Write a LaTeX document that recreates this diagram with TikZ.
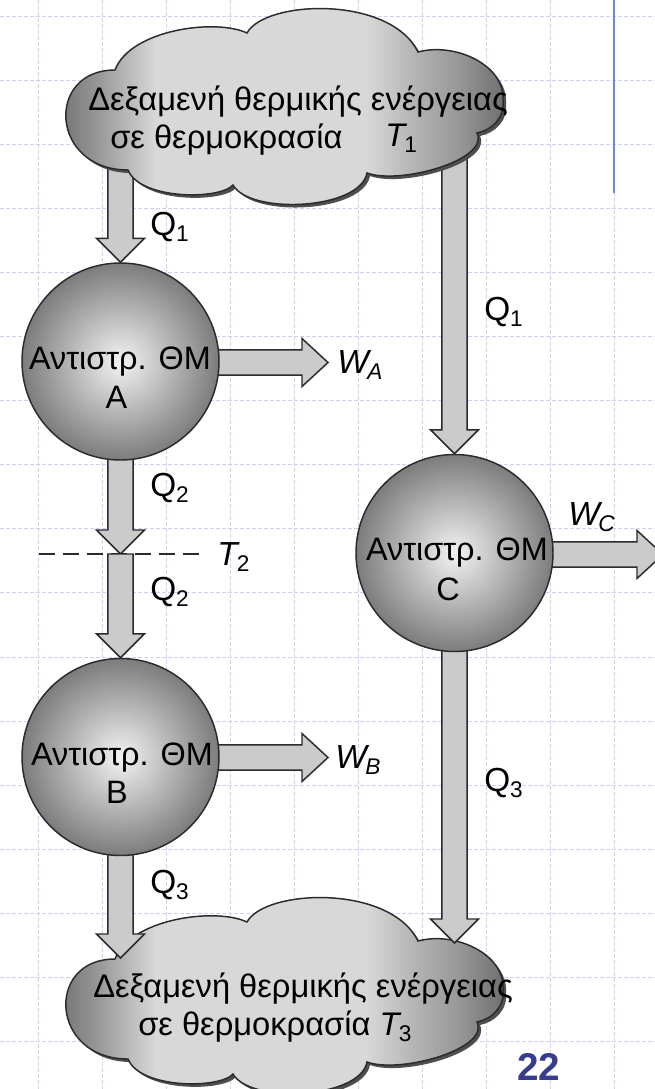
\documentclass[tikz,border=0pt]{standalone}
\usepackage{fontspec}
\setmainfont{Liberation Sans}
\usetikzlibrary{calc}
\pgfdeclarelayer{gridlayer}
\pgfdeclarelayer{low}
\pgfdeclarelayer{arr}
\pgfsetlayers{gridlayer,low,arr,main}
\definecolor{lineC}{HTML}{2B2B2B}
\definecolor{arrowF}{HTML}{CBCBCB}
\definecolor{shadowC}{HTML}{4E4E4E}
\definecolor{gridC}{HTML}{C9D2F5}
\definecolor{blueC}{HTML}{6F83EE}
\definecolor{numC}{HTML}{373C8E}
\definecolor{ballC}{HTML}{F3F3F3}
\definecolor{ballE}{HTML}{7C7C7C}
\definecolor{cA}{HTML}{6E6E6E}
\definecolor{cB}{HTML}{9A9A9A}
\definecolor{cC}{HTML}{D8D8D8}
\definecolor{cD}{HTML}{B5B5B5}
\definecolor{cE}{HTML}{979797}
\pgfdeclarehorizontalshading{cloudsh}{100bp}{color(0bp)=(cA); color(26bp)=(cA); color(31bp)=(cB); color(37bp)=(cC); color(60bp)=(cC); color(65bp)=(cD); color(70bp)=(cE); color(75bp)=(cA); color(100bp)=(cA)}
\pgfdeclareradialshading{ballsh}{\pgfpoint{0bp}{0bp}}{color(0bp)=(ballC); color(25bp)=(ballE); color(50bp)=(ballE)}
\newcommand\lsub[1]{\raisebox{-5pt}{\fontsize{17}{17}\selectfont #1}}
\newcommand\varrow[2]{\draw[blockarrow] let \p1=#1, \p2=#2 in
  (\x2-9.4pt,\y1) -- (\x2-9.4pt,\y2+18pt) -- (\x2-18pt,\y2+18pt) -- (\x2,\y2)
  -- (\x2+18pt,\y2+18pt) -- (\x2+9.4pt,\y2+18pt) -- (\x2+9.4pt,\y1) -- cycle;}
\newcommand\harrow[2]{\draw[blockarrow] let \p1=#1, \p2=#2 in
  (\x1,\y2+9.4pt) -- (\x2-19.5pt,\y2+9.4pt) -- (\x2-19.5pt,\y2+18pt) -- (\x2,\y2)
  -- (\x2-19.5pt,\y2-18pt) -- (\x2-19.5pt,\y2-9.4pt) -- (\x1,\y2-9.4pt) -- cycle;}
\tikzset{
  engine/.style={circle, draw=lineC, line width=1.1pt, shading=ballsh, minimum size=147.75pt, inner sep=0pt},
  blockarrow/.style={fill=arrowF, draw=lineC, line width=1.1pt, line join=miter},
  etext/.style={font=\fontsize{24.3}{29}\selectfont, inner sep=0pt, anchor=base},
  ctext/.style={font=\fontsize{24.5}{29}\selectfont, inner sep=0pt, anchor=base west},
  lbl/.style={font=\fontsize{25}{29}\selectfont, inner sep=0pt, anchor=base west},
  gridline/.style={draw=gridC, line width=0.75pt, dash pattern=on 3pt off 1.5pt},
  cloudpath/.style={insert path={(128,170) .. controls (50,170) and (45,70) .. (115,70)
     .. controls (130,30) and (215,18) .. (247,33)
     .. controls (265,0) and (390,-5) .. (418,52)
     .. controls (455,42) and (505,65) .. (503,100)
     .. controls (505,118) and (492,130) .. (477,133)
     .. controls (490,160) and (400,185) .. (367,173)
     .. controls (360,210) and (250,215) .. (233,185)
     .. controls (220,200) and (140,200) .. (128,170) -- cycle}},
  cloudfill/.style={shading=cloudsh, draw=lineC, line width=1.1pt},
}
\begin{document}
\begin{tikzpicture}[x=0.75pt, y=-0.75pt]
\useasboundingbox (0,0) rectangle (655,1089);
\clip (0,0) rectangle (655,1089);
\begin{pgfonlayer}{gridlayer}
  \fill[white] (0,0) rectangle (655,1089);
  \foreach \k in {0,...,9} \draw[gridline] ({38+64.1*\k},0) -- ({38+64.1*\k},1089);
  \foreach \k in {0,...,16} \draw[gridline] (0,{16+64.1*\k}) -- (655,{16+64.1*\k});
  \coordinate (bl1) at (614,0);
  \coordinate (bl2) at (614,193);
  \draw[blueC, line width=1.5pt] (bl1) -- (bl2);
\end{pgfonlayer}

% engines
\node[engine] (A) at (120.5,361.5) {};
\node[engine] (B) at (120.5,757) {};
\node[engine] (C) at (454.5,553) {};
\node[etext] (A1) at (120,369) {Αντιστρ. ΘΜ};
\node[etext] (A2) at (116.5,408) {A};
\node[etext] (B1) at (122,765) {Αντιστρ. ΘΜ};
\node[etext] (B2) at (117,803) {B};
\node[etext] (C1) at (457,560) {Αντιστρ. ΘΜ};
\node[etext] (C2) at (448,600) {C};

% free ends
\coordinate (c1L) at (120.5,145);
\coordinate (c1R) at (454.5,145);
\coordinate (wA) at (328,362.5);
\coordinate (wB) at (328,757.5);
\coordinate (wC) at (663,554.5);
\coordinate (t2) at (120.5,554);
\coordinate (q3L) at (120.5,958);
\coordinate (q3R) at (454.5,943);
\coordinate (d1) at (39,554);
\coordinate (d2) at (203,554);

% bottom reservoir
\begin{pgfonlayer}{low}
  \begin{scope}[shift={(0,889)}]
    \fill[shadowC, shift={(3,3)}, cloudpath];
    \path[cloudfill, cloudpath];
  \end{scope}
  \node[ctext] (bot1) at (93,997) {Δεξαμενή θερμικής ενέργειας};
  \node[ctext] (bot2) at (138,1035) {σε θερμοκρασία \textit{T}\kern-2pt\lsub{3}};
\end{pgfonlayer}

% arrows
\begin{pgfonlayer}{arr}
  \draw[lineC, line width=1.1pt, dash pattern=on 12pt off 6pt] (d1) -- (d2);
  \varrow{(c1L)}{(A.north)}
  \varrow{(c1R)}{(C.north)}
  \harrow{(A)}{(wA)}
  \varrow{(A)}{(t2)}
  \varrow{(t2)}{(B.north)}
  \harrow{(B)}{(wB)}
  \varrow{(B)}{(q3L)}
  \harrow{(C)}{(wC)}
  \varrow{(C)}{(q3R)}
\end{pgfonlayer}

% top reservoir
\fill[shadowC, shift={(3,3)}, cloudpath];
\path[cloudfill, cloudpath];
\node[ctext] (top1) at (88,110) {Δεξαμενή θερμικής ενέργειας};
\node[ctext] (top2) at (110,148) {σε θερμοκρασία};
\node[ctext] (topT) at (385,146) {\textit{T}\kern-2pt\lsub{1}};

% labels
\node[lbl] (lQ1L) at (150,235) {Q\lsub{1}};
\node[lbl] (lQ1R) at (484,320) {Q\lsub{1}};
\node[lbl] (lWA) at (337,373) {\textit{W}\kern-3pt\lsub{\textit{A}}};
\node[lbl] (lQ2a) at (150,496) {Q\lsub{2}};
\node[lbl] (lT2) at (217,565) {\textit{T}\kern-2pt\lsub{2}};
\node[lbl] (lQ2b) at (150,600) {Q\lsub{2}};
\node[lbl] (lWB) at (335,768) {\textit{W}\kern-3pt\lsub{\textit{B}}};
\node[lbl] (lWC) at (568,525) {\textit{W}\kern-3pt\lsub{\textit{C}}};
\node[lbl] (lQ3R) at (484,791) {Q\lsub{3}};
\node[lbl] (lQ3L) at (150,893) {Q\lsub{3}};
\node[inner sep=0pt, anchor=base west, text=numC, font=\fontsize{29}{30}\selectfont\bfseries] (page) at (517,1080) {22};
\end{tikzpicture}
\end{document}
